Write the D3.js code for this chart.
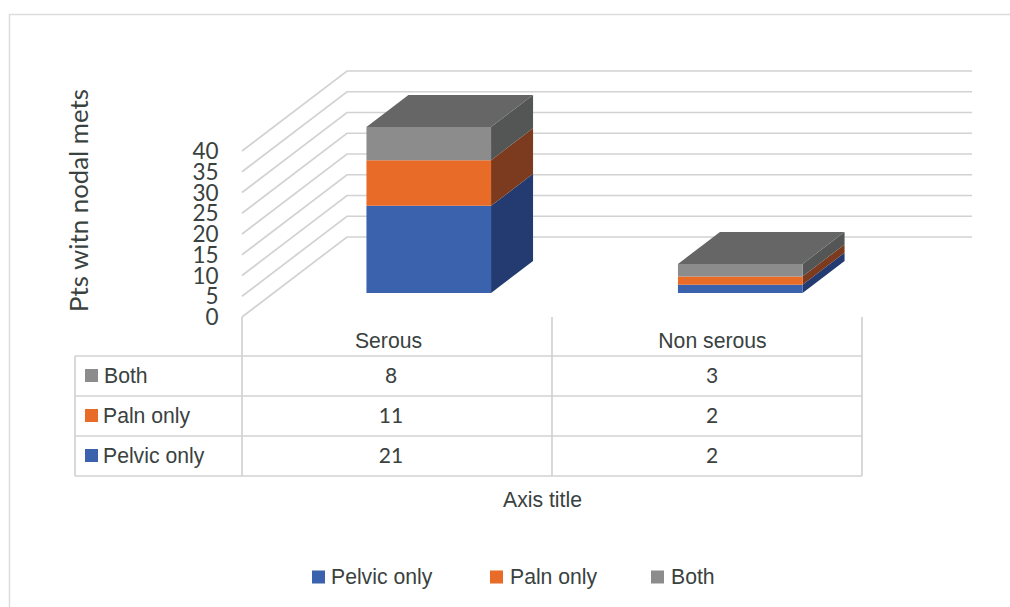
<!DOCTYPE html>
<html><head><meta charset="utf-8">
<script src="https://cdn.jsdelivr.net/npm/d3@7"></script>
<style>html,body{margin:0;padding:0;background:#fff}svg{display:block}</style>
</head><body><svg id="c" width="1010" height="607"></svg>
<script>
const categories = ["Serous", "Non serous"];
const pelvicOnly = [21, 2];
const palnOnly = [11, 2];
const both = [8, 3];
const seriesNames = ["Pelvic only", "Paln only", "Both"];
const seriesValues = [pelvicOnly, palnOnly, both];
const yTicks = [0, 5, 10, 15, 20, 25, 30, 35, 40];
const frontColors = ["#3b62ad", "#e96b28", "#8c8c8c"];
const sideColors = ["#233b70", "#7c3b1e", "#535655"];
const topColor = "#666666";
const gridColor = "#d2d2d2", textColor = "#39423f";

const svg = d3.select("#c");
const sans = "'Liberation Sans',Arial,sans-serif", lato = "Lato,sans-serif";

const x = d3.scaleBand().domain(categories).range([242, 862]);
const xBars = d3.scaleBand().domain(categories).range([241.5, 864.5]);
const y = d3.scaleLinear().domain([0, 40]).range([317, 151]);
const depthX = d3.scaleLinear().domain([0, 1]).range([0, 105]);
const depthY = d3.scaleLinear().domain([0, 1]).range([0, -80]);
const P = (px, val, z) => [px + depthX(z), y(val) + depthY(z)];
const poly = pts => pts.map(p => p.join(",")).join(" ");

// frame
svg.append("path").attr("d", "M9.5,607V14.5H1010").attr("fill", "none").attr("stroke", "#dcdcdc").attr("stroke-width", 1.5);

// gridlines on wall
const gridRight = 972;
svg.append("g").selectAll("polyline").data(yTicks).join("polyline")
  .attr("points", d => poly([P(242, d, 0), P(242, d, 1), [gridRight, P(242, d, 1)[1]]]))
  .attr("fill", "none").attr("stroke", gridColor).attr("stroke-width", 1.7);

// stacked 3D bars
const z0 = 0.3, z1 = 0.7, barFrac = 0.4;
const bars = svg.append("g");
categories.forEach((c, ci) => {
  const cx = xBars(c) + xBars.bandwidth() / 2, w = xBars.bandwidth() * barFrac;
  const xl = cx - w / 2, xr = cx + w / 2;
  let base = 0;
  seriesValues.forEach((s, si) => {
    const v0 = base, v1 = base + s[ci];
    bars.append("polygon").attr("fill", sideColors[si])
      .attr("points", poly([P(xr, v0, z0), P(xr, v0, z1), P(xr, v1, z1), P(xr, v1, z0)]));
    bars.append("polygon").attr("fill", frontColors[si])
      .attr("points", poly([P(xl, v0, z0), P(xr, v0, z0), P(xr, v1, z0), P(xl, v1, z0)]));
    base = v1;
  });
  bars.append("polygon").attr("fill", topColor)
    .attr("points", poly([P(xl, base, z0), P(xr, base, z0), P(xr, base, z1), P(xl, base, z1)]));
});

// y tick labels
svg.append("g").selectAll("text").data(yTicks).join("text")
  .attr("x", 218.5).attr("y", d => y(d) + 8)
  .attr("text-anchor", "end").attr("font-family", lato).attr("font-size", 22.5).attr("fill", textColor)
  .text(d => d);

// y title
svg.append("text").attr("transform", "translate(88,200.5) rotate(-90)")
  .attr("text-anchor", "middle").attr("font-family", lato).attr("font-size", 25.8).attr("fill", textColor)
  .text("Pts witn nodal mets");

// data table
const rowOrder = [2, 1, 0];
const tableLeft = 75, rowY = d3.scaleLinear().domain([0, 3]).range([356, 476]);
const t = svg.append("g").attr("stroke", gridColor).attr("stroke-width", 1.7).attr("fill", "none");
d3.range(4).forEach(i => t.append("line").attr("x1", tableLeft).attr("x2", 862).attr("y1", rowY(i)).attr("y2", rowY(i)));
t.append("line").attr("x1", tableLeft).attr("x2", tableLeft).attr("y1", rowY(0)).attr("y2", rowY(3));
[x.range()[0], x(categories[1]), x.range()[1]].forEach(px =>
  t.append("line").attr("x1", px).attr("x2", px).attr("y1", y(0)).attr("y2", rowY(3)));

const headerCenters = [388.5, 712.5], valueCenters = [391, 712];
categories.forEach((c, ci) => {
  svg.append("text").attr("x", headerCenters[ci]).attr("y", 348)
    .attr("text-anchor", "middle").attr("font-family", sans).attr("font-size", 21.2).attr("fill", textColor).text(c);
});
rowOrder.forEach((si, r) => {
  const my = (rowY(r) + rowY(r + 1)) / 2;
  svg.append("rect").attr("x", 85).attr("y", my - 7).attr("width", 13).attr("height", 13)
    .attr("fill", frontColors[si]);
  svg.append("text").attr("x", si === 2 ? 104 : 103).attr("y", my + 6.5)
    .attr("font-family", sans).attr("font-size", 21.2).attr("fill", textColor).text(seriesNames[si]);
  categories.forEach((c, ci) => {
    svg.append("text").attr("x", valueCenters[ci]).attr("y", my + 7)
      .attr("text-anchor", "middle").attr("font-family", lato).attr("font-size", 21).attr("fill", textColor)
      .text(seriesValues[si][ci]);
  });
});

// x title
svg.append("text").attr("x", 542.5).attr("y", 507).attr("text-anchor", "middle")
  .attr("font-family", sans).attr("font-size", 21.2).attr("fill", textColor).text("Axis title");

// legend
const legendSwatchX = [312, 490, 651], legendTextX = [331, 510, 671];
seriesNames.forEach((n, i) => {
  svg.append("rect").attr("x", legendSwatchX[i]).attr("y", 570.5).attr("width", 13).attr("height", 13).attr("fill", frontColors[i]);
  svg.append("text").attr("x", legendTextX[i]).attr("y", 584)
    .attr("font-family", sans).attr("font-size", 21.2).attr("fill", textColor).text(n);
});
</script></body></html>
